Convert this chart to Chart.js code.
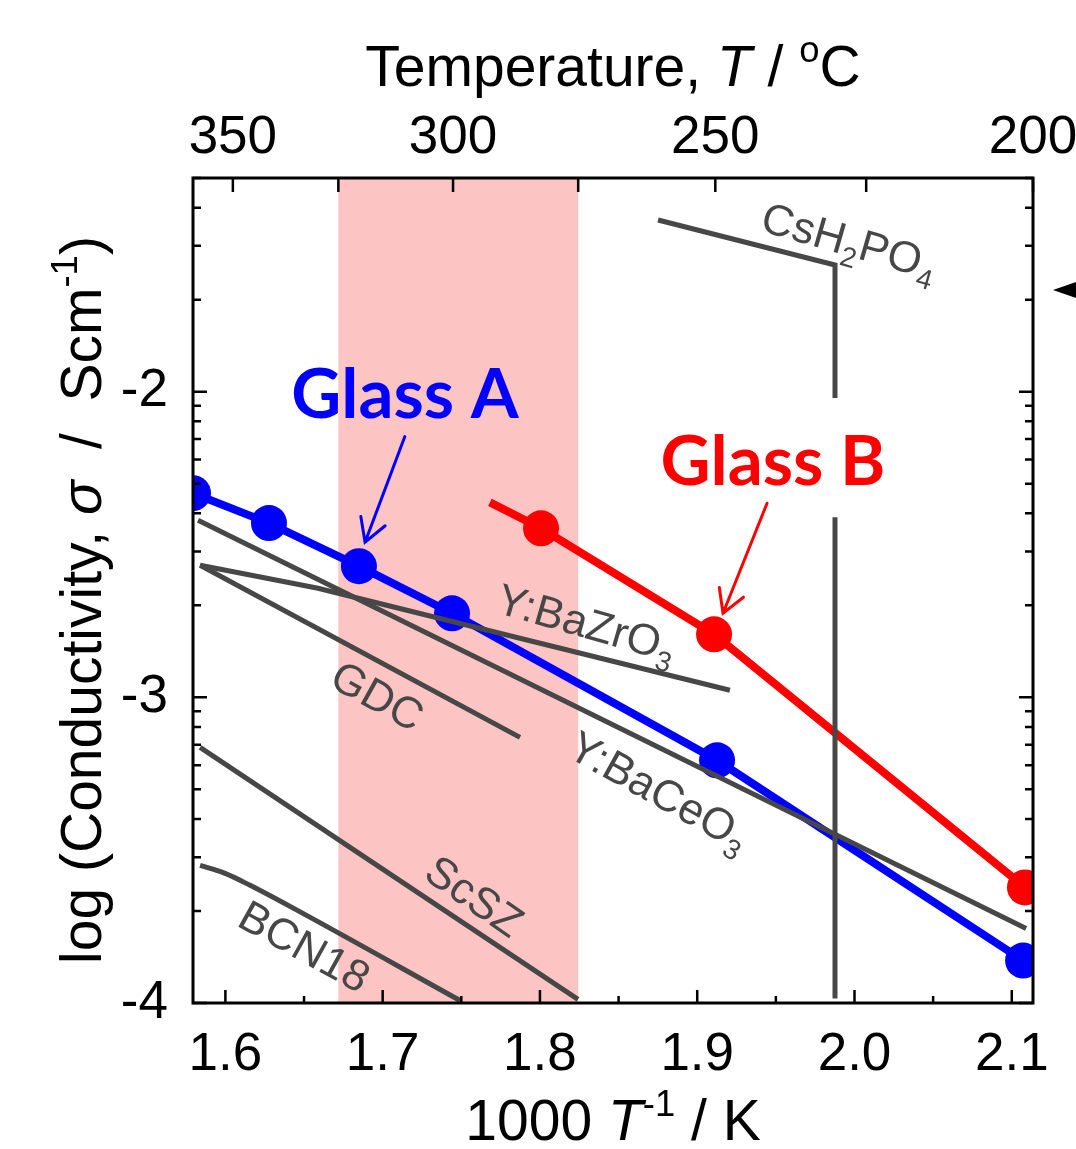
<!DOCTYPE html>
<html>
<head>
<meta charset="utf-8">
<script src="https://cdn.jsdelivr.net/npm/chart.js@4.4.1/dist/chart.umd.min.js"></script>
<style>
  html, body { margin: 0; padding: 0; background: #fff; }
  canvas { display: block; }
</style>
</head>
<body>
<canvas id="chart" width="1076" height="1149"></canvas>
<script>
// x axis runs from 360 °C to 200 °C (as 1000/T)
const tempRange = [360, 200];
const yRange = [-4, -1.301];

const xTickValues = [1.6, 1.65, 1.7, 1.75, 1.8, 1.85, 1.9, 1.95, 2.0, 2.05, 2.1];
const tempTickValues = [350, 325, 300, 275, 250, 225, 200];
const yDecades = [-4, -3, -2];
const bandTemps = [325, 275];

// glass samples
const glassA_x = [1.5794, 1.6277, 1.6849, 1.7441, 1.9126, 2.1072];
const glassA_y = [-2.332, -2.430, -2.571, -2.725, -3.206, -3.861];
const glassB_x = [1.7682, 1.8007, 1.9107, 2.1084];
const glassB_y = [-2.362, -2.447, -2.794, -3.622];

// reference electrolytes
const cshpo_x = [1.8751, 1.9876, 1.9876, 1.9876, 1.9876, 1.9876];
const cshpo_y = [-1.4385, -1.5858, -2.021, null, -2.411, -3.985];
const bazr_x = [1.5839, 1.6589, 1.9208];
const bazr_y = [-2.568, -2.643, -2.977];
const gdc_x = [1.5839, 1.7873];
const gdc_y = [-2.568, -3.131];
const bace_x = [1.5826, 2.1091];
const bace_y = [-2.4205, -3.756];
const scsz_x = [1.5839, 1.8242];
const scsz_y = [-3.1635, -3.988];
const bcn_x = [1.5839, 1.5998, 1.6157, 1.6411, 1.7492];
const bcn_y = [-3.550, -3.576, -3.615, -3.684, -3.992];

const toInvT = t => 1000 / (t + 273.15);
const pts = (xs, ys) => xs.map((x, i) => ({x: x, y: ys[i]}));

const SANS = '"Liberation Sans", Arial, sans-serif';
const GRAY = '#474747';

// text annotations, placed in data coordinates
const notes = [
  {parts: [['CsH'], ['2', 'sub'], ['PO'], ['4', 'sub']], x: 1.9971, y: -1.504, rot: 16},
  {parts: [['Y:BaZrO'], ['3', 'sub']], x: 1.8299, y: -2.754, rot: 16},
  {parts: [['GDC']], x: 1.697, y: -2.993, rot: 29},
  {parts: [['Y:BaCeO'], ['3', 'sub']], x: 1.8763, y: -3.304, rot: 29},
  {parts: [['ScSZ']], x: 1.7587, y: -3.648, rot: 35},
  {parts: [['BCN18']], x: 1.6506, y: -3.812, rot: 29}
];
const glassNotes = [
  {text: 'Glass A', color: '#0000ff', x: 1.7142, y: -2.087},
  {text: 'Glass B', color: '#ff0000', x: 1.9482, y: -2.306}
];
const arrows = [
  {color: '#0000ff', from: [1.7141, -2.147], to: [1.6888, -2.4925]},
  {color: '#ff0000', from: [1.9444, -2.365], to: [1.9164, -2.725]}
];

function fontFor(style, size, family) {
  let s = size;
  if (style === 'sub' || style === 'sup') s = size * 0.64;
  return (style === 'i' ? 'italic ' : '') + s + 'px ' + family;
}
function richWidth(ctx, parts, size, family) {
  let w = 0;
  parts.forEach(p => { ctx.font = fontFor(p[1], size, family); w += ctx.measureText(p[0]).width; });
  return w;
}
function drawRich(ctx, parts, x, y, size, family) {
  let cx = x;
  parts.forEach(p => {
    const st = p[1];
    ctx.font = fontFor(st, size, family);
    let dy = 0;
    if (st === 'sub') dy = size * 0.24;
    if (st === 'sup') dy = -size * 0.42;
    ctx.fillText(p[0], cx, y + dy);
    cx += ctx.measureText(p[0]).width;
  });
}
function drawCentered(ctx, parts, x, y, size, family) {
  const w = richWidth(ctx, parts, size, family);
  drawRich(ctx, parts, x - w / 2, y, size, family);
}

const decor = {
  id: 'decor',
  beforeDatasetsDraw(chart) {
    const {ctx, chartArea: a, scales} = chart;
    const x0 = scales.x.getPixelForValue(toInvT(bandTemps[0]));
    const x1 = scales.x.getPixelForValue(toInvT(bandTemps[1]));
    ctx.save();
    ctx.fillStyle = '#fdc4c4';
    ctx.fillRect(x0, a.top, x1 - x0, a.bottom - a.top);
    ctx.restore();
  },
  afterDraw(chart) {
    const {ctx, chartArea: a, scales} = chart;
    const xs = scales.x, ys = scales.y;
    ctx.save();
    ctx.textBaseline = 'alphabetic';

    // gray labels
    ctx.fillStyle = GRAY;
    notes.forEach(n => {
      const px = xs.getPixelForValue(n.x), py = ys.getPixelForValue(n.y);
      const size = 44;
      const w = richWidth(ctx, n.parts, size, SANS);
      ctx.save();
      ctx.translate(px, py);
      ctx.rotate(n.rot * Math.PI / 180);
      drawRich(ctx, n.parts, -w / 2, size * 0.36, size, SANS);
      ctx.restore();
    });

    // Glass A / Glass B
    glassNotes.forEach(g => {
      ctx.fillStyle = g.color;
      ctx.font = 'bold 69px Lato, "Open Sans", sans-serif';
      ctx.textAlign = 'center';
      ctx.fillText(g.text, xs.getPixelForValue(g.x), ys.getPixelForValue(g.y));
    });
    ctx.textAlign = 'left';

    // pointer arrows
    arrows.forEach(ar => {
      const x1 = xs.getPixelForValue(ar.from[0]), y1 = ys.getPixelForValue(ar.from[1]);
      const x2 = xs.getPixelForValue(ar.to[0]), y2 = ys.getPixelForValue(ar.to[1]);
      const ang = Math.atan2(y1 - y2, x1 - x2);
      const L = 26, h = 30 * Math.PI / 180;
      ctx.strokeStyle = ar.color;
      ctx.lineWidth = 3;
      ctx.lineCap = 'round';
      ctx.beginPath();
      ctx.moveTo(x1, y1); ctx.lineTo(x2, y2);
      ctx.moveTo(x2 + L * Math.cos(ang - h), y2 + L * Math.sin(ang - h));
      ctx.lineTo(x2, y2);
      ctx.lineTo(x2 + L * Math.cos(ang + h), y2 + L * Math.sin(ang + h));
      ctx.stroke();
    });

    // frame
    ctx.strokeStyle = '#000';
    ctx.lineWidth = 3;
    ctx.lineCap = 'butt';
    ctx.strokeRect(a.left, a.top, a.right - a.left, a.bottom - a.top);

    // inward ticks
    ctx.lineWidth = 2.5;
    ctx.beginPath();
    xTickValues.forEach(v => {
      const p = xs.getPixelForValue(v);
      const major = Math.abs(v * 10 - Math.round(v * 10)) < 1e-6;
      const len = major ? 13 : 7;
      ctx.moveTo(p, a.bottom); ctx.lineTo(p, a.bottom - len);
    });
    tempTickValues.forEach(t => {
      const p = scales.xTop.getPixelForValue(toInvT(t));
      ctx.moveTo(p, a.top); ctx.lineTo(p, a.top + 14);
    });
    const yMinor = [];
    yDecades.forEach(d => { for (let k = 2; k <= 9; k++) yMinor.push(d + Math.log10(k)); });
    yDecades.concat(yMinor).forEach(v => {
      if (v > yRange[1] + 1e-6) return;
      const p = ys.getPixelForValue(v);
      const len = Number.isInteger(v) ? 14 : 8;
      ctx.moveTo(a.left, p); ctx.lineTo(a.left + len, p);
      ctx.moveTo(a.right, p); ctx.lineTo(a.right - len, p);
    });
    ctx.stroke();

    // side marker outside plot
    const my = ys.getPixelForValue(-1.6676);
    ctx.fillStyle = '#000';
    ctx.beginPath();
    ctx.moveTo(a.right + 20, my);
    ctx.lineTo(a.right + 46, my - 9);
    ctx.lineTo(a.right + 46, my + 9);
    ctx.closePath();
    ctx.fill();

    // axis titles
    ctx.fillStyle = '#000';
    const cx = (a.left + a.right) / 2;
    drawCentered(ctx, [['Temperature, '], ['T', 'i'], [' / '], ['o', 'sup'], ['C']], cx, 86, 57, SANS);
    drawCentered(ctx, [['1000 '], ['T', 'i'], ['-1', 'sup'], [' / K']], cx, 1140, 57, SANS);
    ctx.save();
    ctx.translate(101, 600);
    ctx.rotate(-Math.PI / 2);
    drawCentered(ctx, [['log (Conductivity, '], ['\u03c3', 'i'], ['  /  Scm'], ['-1', 'sup'], [')']], 0, 0, 57, SANS);
    ctx.restore();

    ctx.restore();
  }
};

const grayLine = (xs, ys) => ({
  data: pts(xs, ys),
  borderColor: GRAY,
  borderWidth: 5,
  pointRadius: 0,
  tension: 0,
  spanGaps: false,
  borderJoinStyle: 'miter',
  clip: 0,
  order: 0
});

const bcnSet = grayLine(bcn_x, bcn_y);
bcnSet.cubicInterpolationMode = 'monotone';

const datasets = [
  grayLine(cshpo_x, cshpo_y),
  grayLine(bazr_x, bazr_y),
  grayLine(gdc_x, gdc_y),
  grayLine(bace_x, bace_y),
  grayLine(scsz_x, scsz_y),
  bcnSet,
  {
    data: pts(glassA_x, glassA_y),
    borderColor: '#0000ff', backgroundColor: '#0000ff',
    borderWidth: 8, pointRadius: 18, pointBorderWidth: 0,
    tension: 0, clip: 0, order: 1
  },
  {
    data: pts(glassB_x, glassB_y),
    borderColor: '#ff0000', backgroundColor: '#ff0000',
    borderWidth: 8, pointRadius: [0, 18, 18, 18], pointBorderWidth: 0,
    tension: 0, clip: 0, order: 1
  }
];

const xMin = toInvT(tempRange[0]), xMax = toInvT(tempRange[1]);

new Chart(document.getElementById('chart').getContext('2d'), {
  type: 'line',
  data: {datasets: datasets},
  options: {
    responsive: false,
    devicePixelRatio: 1,
    animation: false,
    events: [],
    layout: {padding: 0},
    plugins: {legend: {display: false}, tooltip: {enabled: false}},
    scales: {
      x: {
        type: 'linear', position: 'bottom', min: xMin, max: xMax,
        grid: {display: false}, border: {display: false},
        afterBuildTicks: s => { s.ticks = xTickValues.map(v => ({value: v})); },
        afterFit: s => { s.height = 146; s.paddingLeft = 0; s.paddingRight = 0; },
        ticks: {
          autoSkip: false, maxRotation: 0, color: '#000', padding: 13,
          font: {family: SANS, size: 53},
          callback: v => Math.abs(v * 10 - Math.round(v * 10)) < 1e-6 ? v.toFixed(1) : ''
        }
      },
      xTop: {
        type: 'linear', position: 'top', min: xMin, max: xMax,
        grid: {display: false}, border: {display: false},
        afterBuildTicks: s => { s.ticks = tempTickValues.map(t => ({value: toInvT(t)})); },
        afterFit: s => { s.height = 178; s.paddingLeft = 0; s.paddingRight = 0; },
        ticks: {
          autoSkip: false, maxRotation: 0, color: '#000', padding: 0,
          font: {family: SANS, size: 53},
          callback: v => {
            const t = Math.round(1000 / v - 273.15);
            return t % 50 === 0 ? String(t) : '';
          }
        }
      },
      y: {
        type: 'linear', position: 'left', min: yRange[0], max: yRange[1],
        grid: {display: false}, border: {display: false},
        afterBuildTicks: s => { s.ticks = yDecades.map(v => ({value: v})); },
        afterFit: s => { s.width = 193; s.paddingTop = 0; s.paddingBottom = 0; },
        ticks: {color: '#000', padding: 17, font: {family: SANS, size: 53}, callback: v => String(v)}
      },
      y2: {
        type: 'linear', position: 'right', min: yRange[0], max: yRange[1],
        grid: {display: false}, border: {display: false},
        ticks: {display: false},
        afterFit: s => { s.width = 43; s.paddingTop = 0; s.paddingBottom = 0; }
      }
    }
  },
  plugins: [decor]
});
</script>
</body>
</html>
